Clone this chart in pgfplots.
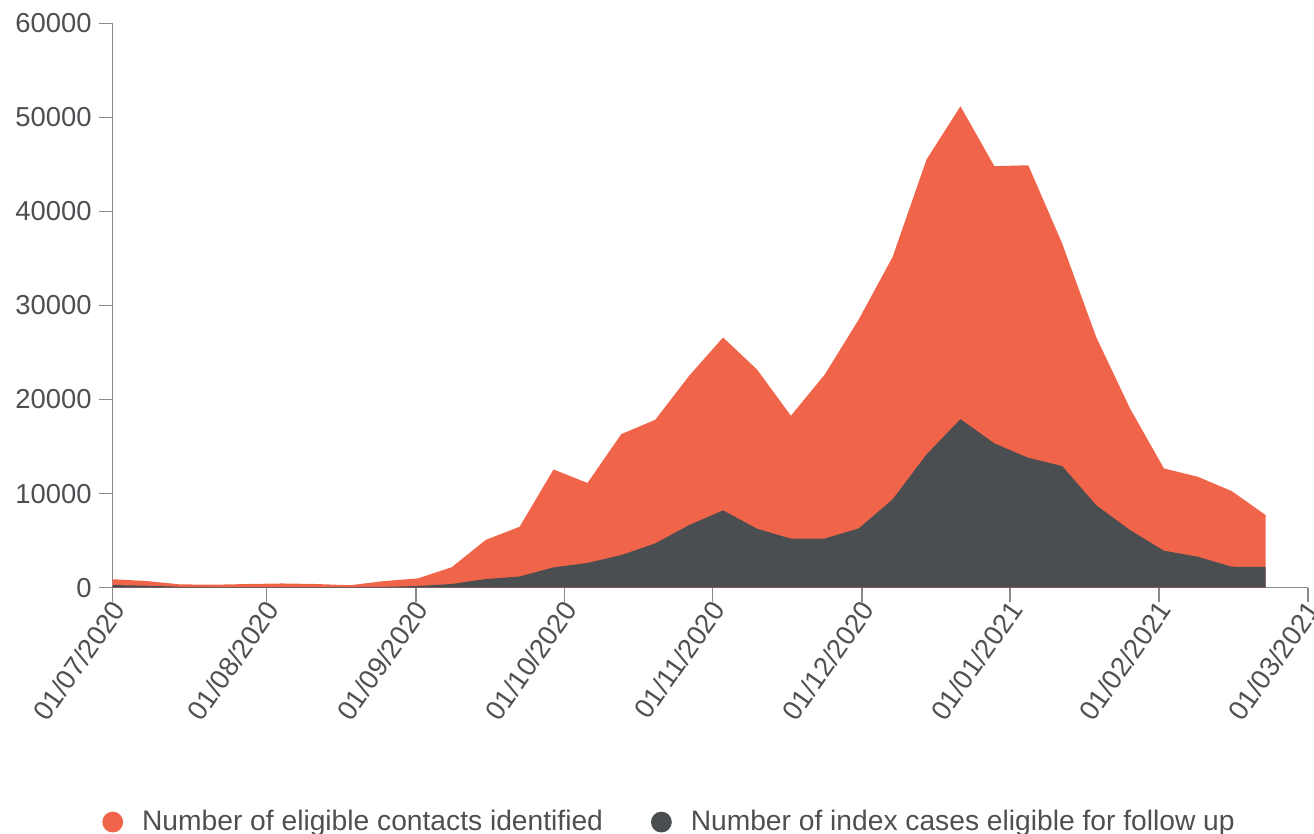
\documentclass[border=0pt]{standalone}
\usepackage{pgfplots}
\pgfplotsset{compat=1.18}
\usepackage{pgfplotstable}
\usepackage{fontspec}
\setmainfont{Liberation Sans}
\definecolor{corange}{HTML}{F0654A}
\definecolor{cgray}{HTML}{4B4E51}
\definecolor{ctext}{HTML}{4D4F52}
\definecolor{caxis}{HTML}{8A8A8A}

% week index k (weekly points), contacts, index cases
\pgfplotstableread{
k contacts cases
0 900 280
1 710 210
2 350 100
3 320 70
4 390 70
5 450 70
6 390 70
7 260 70
8 700 90
9 990 180
10 2180 390
11 5080 920
12 6480 1190
13 12570 2160
14 11130 2630
15 16330 3470
16 17850 4710
17 22530 6660
18 26600 8220
19 23200 6270
20 18280 5210
21 22670 5230
22 28510 6300
23 35170 9390
24 45520 14170
25 51180 17920
26 44810 15340
27 44910 13810
28 36590 12930
29 26670 8780
30 19060 6130
31 12680 3930
32 11790 3290
33 10270 2230
34 7720 2200
}\datatable

\begin{document}
\begin{tikzpicture}
\begin{axis}[
  at={(0,0)}, anchor=south west,
  scale only axis, width=597.5pt, height=282.2pt,
  xmin=0, xmax=35.24, ymin=0, ymax=60000,
  axis x line*=bottom, axis y line*=left,
  axis line style={caxis, line width=0.8pt},
  tick style={caxis, line width=0.8pt},
  major tick length=7pt,
  tick align=outside,
  scaled y ticks=false, scaled x ticks=false,
  xtick={0,4.54,8.94,13.32,17.69,22.09,26.46,30.85,35.24},
  xticklabels={01/07/2020,01/08/2020,01/09/2020,01/10/2020,01/11/2020,01/12/2020,01/01/2021,01/02/2021,01/03/2021},
  ytick={0,10000,20000,30000,40000,50000,60000},
  yticklabels={0,10000,20000,30000,40000,50000,60000},
  ticklabel style={font=\fontsize{13.7}{16}\selectfont, text=ctext},
  xticklabel style={rotate=55, anchor=east, xshift=4pt, yshift=-3.2pt},
  legend columns=2,
  legend image code/.code={\fill[#1] (0pt,0pt) circle (5.2pt);},
  legend style={at={(-0.009,-0.4153)}, anchor=west, draw=none, fill=none,
    inner sep=0pt, font=\fontsize{14.1}{17}\selectfont, text=ctext,
    /tikz/every odd column/.append style={column sep=7.5pt},
    /tikz/every even column/.append style={column sep=22pt}},
]
\addplot[fill=corange, draw=none] table[x=k, y=contacts] {\datatable} \closedcycle;
\addlegendentry{Number of eligible contacts identified}
\addplot[fill=cgray, draw=none] table[x=k, y=cases] {\datatable} \closedcycle;
\addlegendentry{Number of index cases eligible for follow up}
\end{axis}
\pgfresetboundingbox
\useasboundingbox (-56.35pt,-123.15pt) rectangle (600.65pt,293.85pt);
\end{tikzpicture}
\end{document}
